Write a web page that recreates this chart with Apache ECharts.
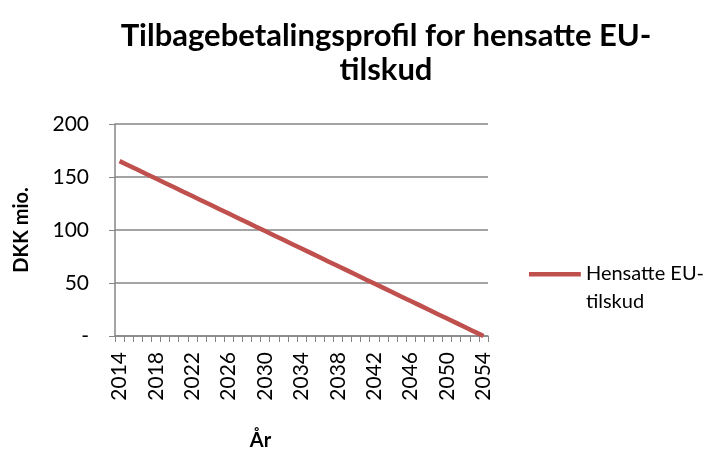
<!DOCTYPE html>
<html><head><meta charset="utf-8">
<script src="https://cdn.jsdelivr.net/npm/echarts@6/dist/echarts.min.js"></script>
<style>html,body{margin:0;padding:0;background:#fff}#c{width:715px;height:452px}</style>
</head><body><div id="c"></div>
<script>
var years = [2014,2015,2016,2017,2018,2019,2020,2021,2022,2023,2024,2025,2026,2027,2028,2029,2030,2031,2032,2033,2034,2035,2036,2037,2038,2039,2040,2041,2042,2043,2044,2045,2046,2047,2048,2049,2050,2051,2052,2053,2054];
var hensatte = [165.0,160.9,156.8,152.6,148.5,144.4,140.3,136.1,132.0,127.9,123.8,119.6,115.5,111.4,107.3,103.1,99.0,94.9,90.8,86.6,82.5,78.4,74.3,70.1,66.0,61.9,57.8,53.6,49.5,45.4,41.3,37.1,33.0,28.9,24.8,20.6,16.5,12.4,8.3,4.1,0.0];
var yTicks = [0,50,100,150,200];
var FONT = 'Lato';
var chart = echarts.init(document.getElementById('c'));
chart.setOption({
  animation:false,
  title:{text:'Tilbagebetalingsprofil for hensatte EU-\ntilskud',left:381,textAlign:'center',top:14,
    textStyle:{fontFamily:FONT,fontWeight:'bold',fontSize:31,lineHeight:34,color:'#000'}},
  grid:{left:115,right:227,top:124,bottom:114,containLabel:false},
  legend:{orient:'vertical',left:524,top:255,itemWidth:52,itemHeight:32,
    icon:'path://M0,0H52V4.5H0Z M0,32H0.1V32.1H0Z',
    textStyle:{fontFamily:FONT,fontSize:20,color:'#000',lineHeight:28},
    data:[{name:'Hensatte EU-\ntilskud'}]},
  xAxis:{type:'category',data:years,boundaryGap:true,
    name:'År',nameLocation:'middle',nameGap:95,
    nameTextStyle:{fontFamily:FONT,fontWeight:'bold',fontSize:20,color:'#000',padding:[0,82,0,0]},
    axisLine:{lineStyle:{color:'#868686',width:1.5}},
    axisTick:{show:true,alignWithLabel:false,interval:0,length:6,lineStyle:{color:'#868686'}},
    axisLabel:{interval:3,rotate:90,fontFamily:FONT,fontSize:21,color:'#000',margin:16},
    splitLine:{show:false}},
  yAxis:{type:'value',min:0,max:200,interval:50,
    name:'DKK mio.',nameLocation:'middle',nameGap:83,nameRotate:90,
    nameTextStyle:{fontFamily:FONT,fontWeight:'bold',fontSize:20,color:'#000'},
    axisLine:{show:true,lineStyle:{color:'#868686',width:1.5}},
    axisTick:{show:true,length:6,lineStyle:{color:'#868686'}},
    axisLabel:{fontFamily:FONT,fontSize:21,color:'#000',margin:26,
      formatter:function(v){return v===yTicks[0] ? '-' : String(v);}},
    splitLine:{lineStyle:{color:'#868686',width:1.5}}},
  series:[{name:'Hensatte EU-\ntilskud',type:'line',data:hensatte,showSymbol:false,symbol:'none',
    lineStyle:{color:'#C0504D',width:4.5},itemStyle:{color:'#C0504D'}}]
});
</script></body></html>
